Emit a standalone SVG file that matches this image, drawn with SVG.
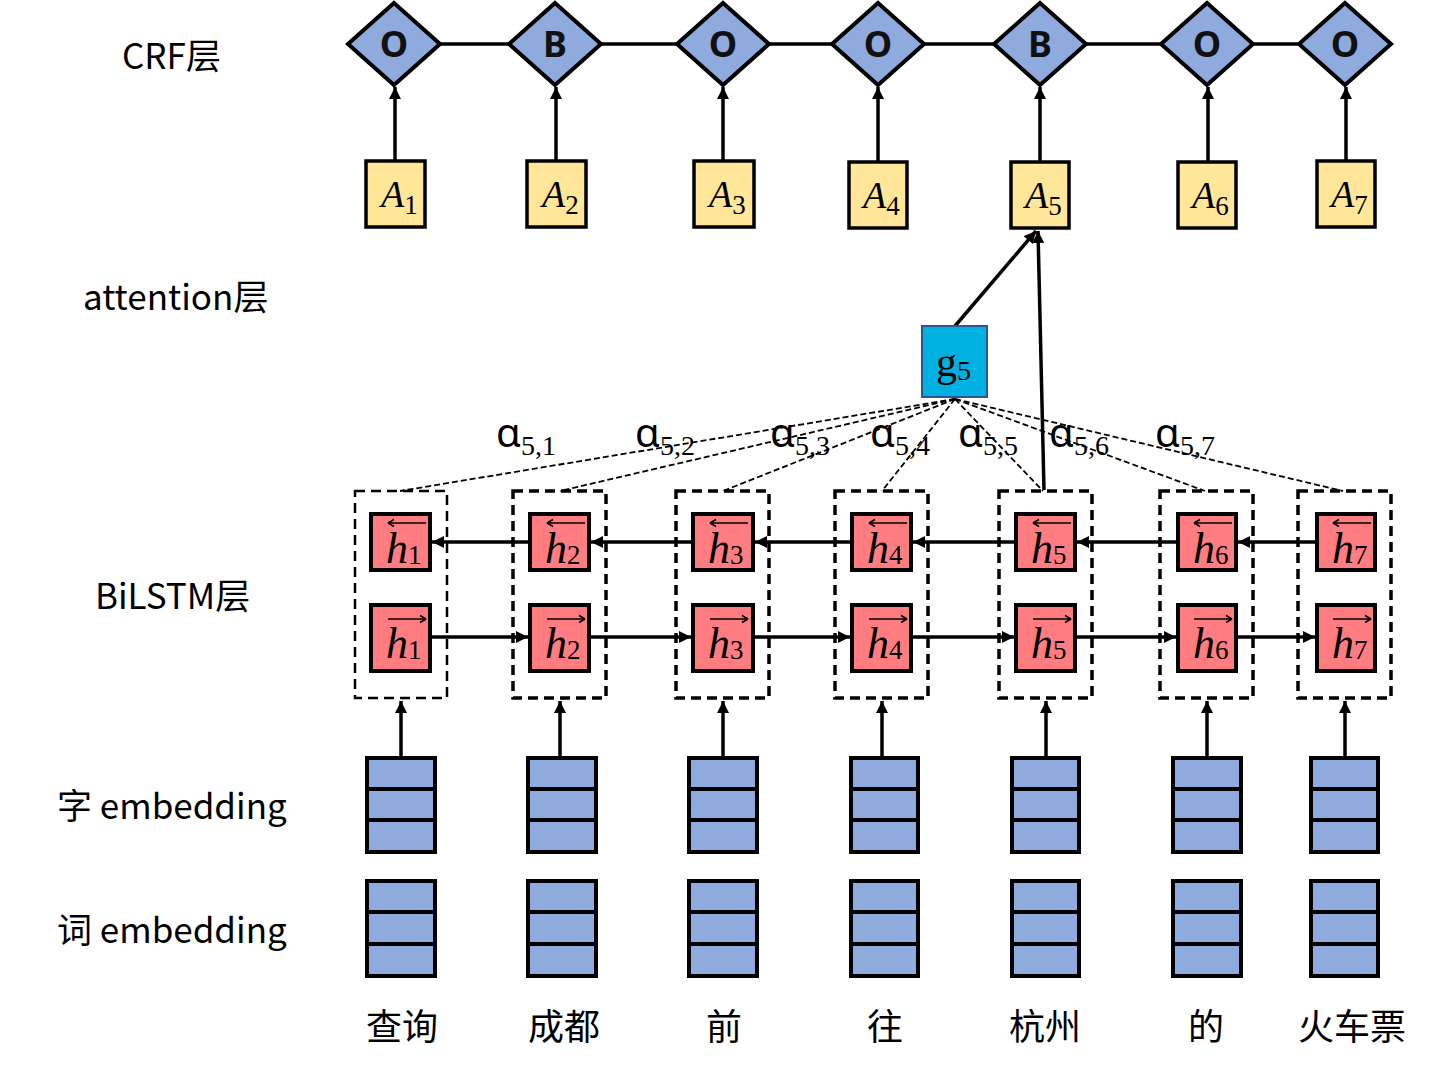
<svg xmlns="http://www.w3.org/2000/svg" width="1432" height="1071" viewBox="0 0 1432 1071">
<style>
.lbl{font-family:"Noto Sans CJK SC","Noto Sans",sans-serif;font-size:35px;fill:#000}
.dia{fill:#8FAADC;stroke:#000;stroke-width:4}
.dl{font-family:"Noto Sans","Liberation Sans",sans-serif;font-size:36px;font-weight:bold;fill:#111;text-anchor:middle}
.abox{fill:#FFE699;stroke:#000;stroke-width:3.5}
.hbox{fill:#FF7C80;stroke:#000;stroke-width:4}
.emb{fill:#8FAADC;stroke:#000;stroke-width:4}
.dbox{fill:none;stroke:#000;stroke-width:3.5;stroke-dasharray:10,6}
.math{font-family:"Liberation Serif","DejaVu Serif",serif;font-style:italic;font-size:38px;fill:#000}
.hm{font-family:"Liberation Serif","DejaVu Serif",serif;font-style:italic;font-size:44px;fill:#000}
.sub{font-style:normal;font-size:27px}
.alpha{font-family:"Noto Sans","DejaVu Sans",sans-serif;font-size:40px;fill:#000}
.asub{font-family:"Liberation Serif",serif;font-size:28px}
.ln{stroke:#000;stroke-width:3.5;fill:none}
.att{stroke:#000;stroke-width:1.8;fill:none;stroke-dasharray:6,3}
.ov{stroke:#000;stroke-width:1.5;fill:none}
.word{font-family:"Noto Sans CJK SC",sans-serif;font-size:36px;fill:#000;text-anchor:middle}
</style>
<defs>
<marker id="ah" markerUnits="userSpaceOnUse" markerWidth="14" markerHeight="14" refX="12" refY="6" orient="auto">
<path d="M0,0 L12,6 L0,12 z" fill="#000"/>
</marker>
</defs>
<rect width="1432" height="1071" fill="#fff"/>

<g id="labels">
<text class="lbl" x="122" y="69">CRF层</text>
<text class="lbl" x="83" y="310">attention层</text>
<text class="lbl" x="95" y="609">BiLSTM层</text>
<text class="lbl" x="57" y="819">字 embedding</text>
<text class="lbl" x="57" y="943">词 embedding</text>
</g>

<g id="connectors">
<line class="ln" x1="394" y1="44" x2="1345" y2="44"/>
<line class="ln" x1="395" y1="161" x2="395" y2="87" marker-end="url(#ah)"/>
<line class="ln" x1="556" y1="161" x2="556" y2="87" marker-end="url(#ah)"/>
<line class="ln" x1="723" y1="161" x2="723" y2="87" marker-end="url(#ah)"/>
<line class="ln" x1="878" y1="162" x2="878" y2="87" marker-end="url(#ah)"/>
<line class="ln" x1="1040" y1="162" x2="1040" y2="87" marker-end="url(#ah)"/>
<line class="ln" x1="1208" y1="162" x2="1208" y2="87" marker-end="url(#ah)"/>
<line class="ln" x1="1346" y1="161" x2="1346" y2="87" marker-end="url(#ah)"/>
<line class="ln" x1="955" y1="326" x2="1036" y2="231" marker-end="url(#ah)"/>
<line class="ln" x1="1044" y1="490" x2="1038" y2="231" marker-end="url(#ah)"/>
<g id="attention">
<line class="att" x1="955" y1="399" x2="400" y2="491"/>
<line class="att" x1="955" y1="399" x2="560" y2="491"/>
<line class="att" x1="955" y1="399" x2="723" y2="491"/>
<line class="att" x1="955" y1="399" x2="882" y2="491"/>
<line class="att" x1="955" y1="399" x2="1043" y2="491"/>
<line class="att" x1="955" y1="399" x2="1205" y2="491"/>
<line class="att" x1="955" y1="399" x2="1343" y2="491"/>
</g>
<line class="ln" x1="1317" y1="542" x2="1238" y2="542" marker-end="url(#ah)"/>
<line class="ln" x1="1178" y1="542" x2="1077" y2="542" marker-end="url(#ah)"/>
<line class="ln" x1="1016" y1="542" x2="913" y2="542" marker-end="url(#ah)"/>
<line class="ln" x1="852" y1="542" x2="755" y2="542" marker-end="url(#ah)"/>
<line class="ln" x1="693" y1="542" x2="591" y2="542" marker-end="url(#ah)"/>
<line class="ln" x1="530" y1="542" x2="432" y2="542" marker-end="url(#ah)"/>
<line class="ln" x1="430" y1="637" x2="528" y2="637" marker-end="url(#ah)"/>
<line class="ln" x1="589" y1="637" x2="691" y2="637" marker-end="url(#ah)"/>
<line class="ln" x1="753" y1="637" x2="850" y2="637" marker-end="url(#ah)"/>
<line class="ln" x1="911" y1="637" x2="1014" y2="637" marker-end="url(#ah)"/>
<line class="ln" x1="1075" y1="637" x2="1176" y2="637" marker-end="url(#ah)"/>
<line class="ln" x1="1236" y1="637" x2="1315" y2="637" marker-end="url(#ah)"/>
<line class="ln" x1="401" y1="757" x2="401" y2="701" marker-end="url(#ah)"/>
<line class="ln" x1="560" y1="757" x2="560" y2="701" marker-end="url(#ah)"/>
<line class="ln" x1="723" y1="757" x2="723" y2="701" marker-end="url(#ah)"/>
<line class="ln" x1="882" y1="757" x2="882" y2="701" marker-end="url(#ah)"/>
<line class="ln" x1="1046" y1="757" x2="1046" y2="701" marker-end="url(#ah)"/>
<line class="ln" x1="1207" y1="757" x2="1207" y2="701" marker-end="url(#ah)"/>
<line class="ln" x1="1345" y1="757" x2="1345" y2="701" marker-end="url(#ah)"/>
</g>

<g id="crf">
<g id="d1"><polygon class="dia" points="394,3 440,44 394,85 348,44"/><text class="dl" x="394" y="57">O</text></g>
<g id="d2"><polygon class="dia" points="555,3 601,44 555,85 509,44"/><text class="dl" x="555" y="57">B</text></g>
<g id="d3"><polygon class="dia" points="723,3 769,44 723,85 677,44"/><text class="dl" x="723" y="57">O</text></g>
<g id="d4"><polygon class="dia" points="878,3 924,44 878,85 832,44"/><text class="dl" x="878" y="57">O</text></g>
<g id="d5"><polygon class="dia" points="1040,3 1086,44 1040,85 994,44"/><text class="dl" x="1040" y="57">B</text></g>
<g id="d6"><polygon class="dia" points="1207,3 1253,44 1207,85 1161,44"/><text class="dl" x="1207" y="57">O</text></g>
<g id="d7"><polygon class="dia" points="1345,3 1391,44 1345,85 1299,44"/><text class="dl" x="1345" y="57">O</text></g>
</g>

<g id="abox">
<g id="a1"><rect class="abox" x="366" y="161" width="59" height="66"/><text class="math" x="381" y="207">A<tspan class="sub" dy="7">1</tspan></text></g>
<g id="a2"><rect class="abox" x="527" y="161" width="59" height="66"/><text class="math" x="542" y="207">A<tspan class="sub" dy="7">2</tspan></text></g>
<g id="a3"><rect class="abox" x="694" y="161" width="60" height="66"/><text class="math" x="709" y="207">A<tspan class="sub" dy="7">3</tspan></text></g>
<g id="a4"><rect class="abox" x="849" y="162" width="58" height="66"/><text class="math" x="863" y="208">A<tspan class="sub" dy="7">4</tspan></text></g>
<g id="a5"><rect class="abox" x="1011" y="162" width="58" height="66"/><text class="math" x="1025" y="208">A<tspan class="sub" dy="7">5</tspan></text></g>
<g id="a6"><rect class="abox" x="1178" y="162" width="58" height="66"/><text class="math" x="1192" y="208">A<tspan class="sub" dy="7">6</tspan></text></g>
<g id="a7"><rect class="abox" x="1317" y="161" width="58" height="66"/><text class="math" x="1331" y="207">A<tspan class="sub" dy="7">7</tspan></text></g>
</g>

<g id="g5">
<rect x="922" y="326" width="65" height="71" fill="#00B0E0" stroke="#2F5597" stroke-width="2"/>
<text x="936" y="376" font-family="Liberation Serif,serif" font-size="42" fill="#000">g<tspan font-size="28" dy="4">5</tspan></text>
</g>

<g id="alphas">
<text class="alpha" x="496" y="447">α<tspan class="asub" dy="8">5,1</tspan></text>
<text class="alpha" x="635" y="447">α<tspan class="asub" dy="8">5,2</tspan></text>
<text class="alpha" x="770" y="447">α<tspan class="asub" dy="8">5,3</tspan></text>
<text class="alpha" x="870" y="447">α<tspan class="asub" dy="8">5,4</tspan></text>
<text class="alpha" x="958" y="447">α<tspan class="asub" dy="8">5,5</tspan></text>
<text class="alpha" x="1049" y="447">α<tspan class="asub" dy="8">5,6</tspan></text>
<text class="alpha" x="1155" y="447">α<tspan class="asub" dy="8">5,7</tspan></text>
</g>

<g id="bilstm">
<g id="col1">
<rect class="dbox" x="355" y="491" width="92" height="207" style="stroke-width:2.5"/>
<rect class="hbox" x="371" y="514" width="59" height="56"/>
<text class="hm" x="386" y="563">h<tspan class="sub" dy="1">1</tspan></text>
<path class="ov" d="M388,523 H426 M388,523 l6,-3.5 M388,523 l6,3.5"/>
<rect class="hbox" x="371" y="605" width="59" height="66"/>
<text class="hm" x="386" y="658">h<tspan class="sub" dy="1">1</tspan></text>
<path class="ov" d="M388,619 H426 M426,619 l-6,-3.5 M426,619 l-6,3.5"/>
</g>
<g id="col2">
<rect class="dbox" x="513" y="491" width="93" height="207"/>
<rect class="hbox" x="530" y="514" width="59" height="56"/>
<text class="hm" x="545" y="563">h<tspan class="sub" dy="1">2</tspan></text>
<path class="ov" d="M547,523 H585 M547,523 l6,-3.5 M547,523 l6,3.5"/>
<rect class="hbox" x="530" y="605" width="59" height="66"/>
<text class="hm" x="545" y="658">h<tspan class="sub" dy="1">2</tspan></text>
<path class="ov" d="M547,619 H585 M585,619 l-6,-3.5 M585,619 l-6,3.5"/>
</g>
<g id="col3">
<rect class="dbox" x="676" y="491" width="93" height="207"/>
<rect class="hbox" x="693" y="514" width="60" height="56"/>
<text class="hm" x="708" y="563">h<tspan class="sub" dy="1">3</tspan></text>
<path class="ov" d="M710,523 H748 M710,523 l6,-3.5 M710,523 l6,3.5"/>
<rect class="hbox" x="693" y="605" width="60" height="66"/>
<text class="hm" x="708" y="658">h<tspan class="sub" dy="1">3</tspan></text>
<path class="ov" d="M710,619 H748 M748,619 l-6,-3.5 M748,619 l-6,3.5"/>
</g>
<g id="col4">
<rect class="dbox" x="835" y="491" width="93" height="207"/>
<rect class="hbox" x="852" y="514" width="59" height="56"/>
<text class="hm" x="867" y="563">h<tspan class="sub" dy="1">4</tspan></text>
<path class="ov" d="M869,523 H907 M869,523 l6,-3.5 M869,523 l6,3.5"/>
<rect class="hbox" x="852" y="605" width="59" height="66"/>
<text class="hm" x="867" y="658">h<tspan class="sub" dy="1">4</tspan></text>
<path class="ov" d="M869,619 H907 M907,619 l-6,-3.5 M907,619 l-6,3.5"/>
</g>
<g id="col5">
<rect class="dbox" x="999" y="491" width="93" height="207"/>
<rect class="hbox" x="1016" y="514" width="59" height="56"/>
<text class="hm" x="1031" y="563">h<tspan class="sub" dy="1">5</tspan></text>
<path class="ov" d="M1033,523 H1071 M1033,523 l6,-3.5 M1033,523 l6,3.5"/>
<rect class="hbox" x="1016" y="605" width="59" height="66"/>
<text class="hm" x="1031" y="658">h<tspan class="sub" dy="1">5</tspan></text>
<path class="ov" d="M1033,619 H1071 M1071,619 l-6,-3.5 M1071,619 l-6,3.5"/>
</g>
<g id="col6">
<rect class="dbox" x="1160" y="491" width="93" height="207"/>
<rect class="hbox" x="1178" y="514" width="58" height="56"/>
<text class="hm" x="1193" y="563">h<tspan class="sub" dy="1">6</tspan></text>
<path class="ov" d="M1194,523 H1232 M1194,523 l6,-3.5 M1194,523 l6,3.5"/>
<rect class="hbox" x="1178" y="605" width="58" height="66"/>
<text class="hm" x="1193" y="658">h<tspan class="sub" dy="1">6</tspan></text>
<path class="ov" d="M1194,619 H1232 M1232,619 l-6,-3.5 M1232,619 l-6,3.5"/>
</g>
<g id="col7">
<rect class="dbox" x="1298" y="491" width="93" height="207"/>
<rect class="hbox" x="1317" y="514" width="58" height="56"/>
<text class="hm" x="1332" y="563">h<tspan class="sub" dy="1">7</tspan></text>
<path class="ov" d="M1333,523 H1371 M1333,523 l6,-3.5 M1333,523 l6,3.5"/>
<rect class="hbox" x="1317" y="605" width="58" height="66"/>
<text class="hm" x="1332" y="658">h<tspan class="sub" dy="1">7</tspan></text>
<path class="ov" d="M1333,619 H1371 M1371,619 l-6,-3.5 M1371,619 l-6,3.5"/>
</g>
</g>

<g id="embeddings">
<g id="ce1"><rect class="emb" x="367" y="758" width="68" height="94"/><line class="ln" x1="367" y1="789" x2="435" y2="789" style="stroke-width:4"/><line class="ln" x1="367" y1="820" x2="435" y2="820" style="stroke-width:4"/></g>
<g id="ce2"><rect class="emb" x="528" y="758" width="68" height="94"/><line class="ln" x1="528" y1="789" x2="596" y2="789" style="stroke-width:4"/><line class="ln" x1="528" y1="820" x2="596" y2="820" style="stroke-width:4"/></g>
<g id="ce3"><rect class="emb" x="689" y="758" width="68" height="94"/><line class="ln" x1="689" y1="789" x2="757" y2="789" style="stroke-width:4"/><line class="ln" x1="689" y1="820" x2="757" y2="820" style="stroke-width:4"/></g>
<g id="ce4"><rect class="emb" x="851" y="758" width="67" height="94"/><line class="ln" x1="851" y1="789" x2="918" y2="789" style="stroke-width:4"/><line class="ln" x1="851" y1="820" x2="918" y2="820" style="stroke-width:4"/></g>
<g id="ce5"><rect class="emb" x="1012" y="758" width="67" height="94"/><line class="ln" x1="1012" y1="789" x2="1079" y2="789" style="stroke-width:4"/><line class="ln" x1="1012" y1="820" x2="1079" y2="820" style="stroke-width:4"/></g>
<g id="ce6"><rect class="emb" x="1173" y="758" width="68" height="94"/><line class="ln" x1="1173" y1="789" x2="1241" y2="789" style="stroke-width:4"/><line class="ln" x1="1173" y1="820" x2="1241" y2="820" style="stroke-width:4"/></g>
<g id="ce7"><rect class="emb" x="1311" y="758" width="67" height="94"/><line class="ln" x1="1311" y1="789" x2="1378" y2="789" style="stroke-width:4"/><line class="ln" x1="1311" y1="820" x2="1378" y2="820" style="stroke-width:4"/></g>

<g id="we1"><rect class="emb" x="367" y="881" width="68" height="95"/><line class="ln" x1="367" y1="912" x2="435" y2="912" style="stroke-width:4"/><line class="ln" x1="367" y1="944" x2="435" y2="944" style="stroke-width:4"/></g>
<g id="we2"><rect class="emb" x="528" y="881" width="68" height="95"/><line class="ln" x1="528" y1="912" x2="596" y2="912" style="stroke-width:4"/><line class="ln" x1="528" y1="944" x2="596" y2="944" style="stroke-width:4"/></g>
<g id="we3"><rect class="emb" x="689" y="881" width="68" height="95"/><line class="ln" x1="689" y1="912" x2="757" y2="912" style="stroke-width:4"/><line class="ln" x1="689" y1="944" x2="757" y2="944" style="stroke-width:4"/></g>
<g id="we4"><rect class="emb" x="851" y="881" width="67" height="95"/><line class="ln" x1="851" y1="912" x2="918" y2="912" style="stroke-width:4"/><line class="ln" x1="851" y1="944" x2="918" y2="944" style="stroke-width:4"/></g>
<g id="we5"><rect class="emb" x="1012" y="881" width="67" height="95"/><line class="ln" x1="1012" y1="912" x2="1079" y2="912" style="stroke-width:4"/><line class="ln" x1="1012" y1="944" x2="1079" y2="944" style="stroke-width:4"/></g>
<g id="we6"><rect class="emb" x="1173" y="881" width="68" height="95"/><line class="ln" x1="1173" y1="912" x2="1241" y2="912" style="stroke-width:4"/><line class="ln" x1="1173" y1="944" x2="1241" y2="944" style="stroke-width:4"/></g>
<g id="we7"><rect class="emb" x="1311" y="881" width="67" height="95"/><line class="ln" x1="1311" y1="912" x2="1378" y2="912" style="stroke-width:4"/><line class="ln" x1="1311" y1="944" x2="1378" y2="944" style="stroke-width:4"/></g>
</g>

<g id="words">
<text class="word" x="402" y="1040">查询</text>
<text class="word" x="564" y="1040">成都</text>
<text class="word" x="724" y="1040">前</text>
<text class="word" x="885" y="1040">往</text>
<text class="word" x="1045" y="1040">杭州</text>
<text class="word" x="1206" y="1040">的</text>
<text class="word" x="1352" y="1040">火车票</text>
</g>
</svg>
